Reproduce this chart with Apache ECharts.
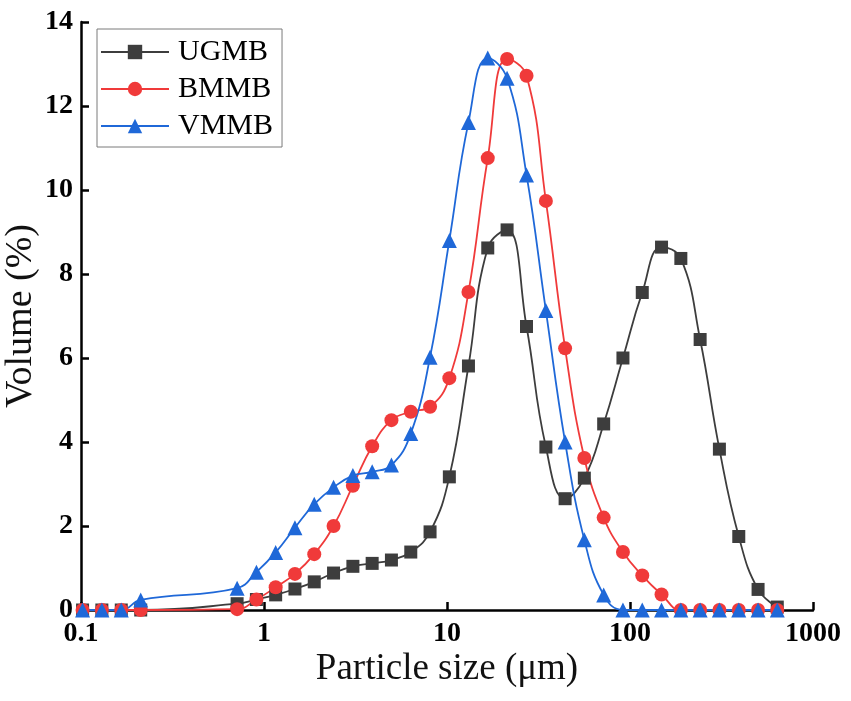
<!DOCTYPE html>
<html>
<head>
<meta charset="utf-8">
<script src="https://cdn.jsdelivr.net/npm/echarts@6/dist/echarts.min.js"></script>
<style>
  html, body { margin: 0; padding: 0; background: #fff; }
  #chart { width: 851px; height: 701px; }
</style>
</head>
<body>
<div id="chart"></div>
<script>
// Particle size bins (µm); nulls in the value arrays mark bins with no plotted marker
const sizes = [0.102, 0.130, 0.166, 0.212, 0.270, 0.344, 0.438, 0.559,
  0.713, 0.909, 1.158, 1.476, 1.882, 2.399, 3.06, 3.90, 4.97, 6.34, 8.08,
  10.3, 13.1, 16.7, 21.3, 27.2, 34.7, 44.2, 56.3, 71.8, 91.5, 116.7, 148.7,
  189.6, 241.7, 308, 393, 501, 638];

const ugmb = [0, 0, 0, 0, null, null, null, null,
  0.15, 0.25, 0.36, 0.5, 0.67, 0.88, 1.04, 1.11, 1.19, 1.38, 1.86,
  3.17, 5.81, 8.62, 9.05, 6.75, 3.88, 2.65, 3.14, 4.43, 6.0, 7.56, 8.64,
  8.37, 6.44, 3.83, 1.75, 0.49, 0.07];

const bmmb = [0, 0, 0, 0, null, null, null, null,
  0.02, 0.25, 0.54, 0.86, 1.33, 2.0, 2.96, 3.9, 4.52, 4.72, 4.84,
  5.52, 7.57, 10.76, 13.12, 12.72, 9.74, 6.23, 3.62, 2.2, 1.38, 0.82, 0.37,
  0, 0, 0, 0, 0, 0];

const vmmb = [0, 0, 0, 0.24, null, null, null, null,
  0.52, 0.9, 1.37, 1.96, 2.52, 2.92, 3.2, 3.29, 3.45, 4.2, 6.02,
  8.8, 11.61, 13.14, 12.66, 10.36, 7.13, 4.0, 1.67, 0.36, 0, 0, 0,
  0, 0, 0, 0, 0, 0];

const seriesNames = ['UGMB', 'BMMB', 'VMMB'];
const xTicks = ['0.1', '1', '10', '100', '1000'];

function pairs(vals) {
  const out = [];
  sizes.forEach((s, i) => { if (vals[i] !== null) out.push([s, vals[i]]); });
  return out;
}

const serif = 'Liberation Serif, Times New Roman, serif';
const chart = echarts.init(document.getElementById('chart'));

function mkSeries(name, vals, color, symbol, size) {
  return {
    name: name,
    type: 'line',
    data: pairs(vals),
    smooth: 0.45,
    symbol: symbol,
    symbolSize: size,
    showAllSymbol: true,
    clip: false,
    lineStyle: { color: color, width: 1.8 },
    itemStyle: { color: color },
    emphasis: { disabled: true }
  };
}

chart.setOption({
  animation: false,
  backgroundColor: '#ffffff',
  grid: { left: 81, right: 38, top: 22, bottom: 91, containLabel: false, outerBoundsMode: 'none' },
  legend: {
    orient: 'vertical',
    left: 97,
    top: 29,
    padding: [8, 9, 6, 3],
    itemWidth: 68,
    itemHeight: 18,
    itemGap: 7,
    borderColor: '#7a7a7a',
    borderWidth: 1,
    data: seriesNames,
    textStyle: { fontFamily: serif, fontSize: 30, lineHeight: 30, color: '#000', padding: [0, 0, 0, 4] }
  },
  xAxis: {
    type: 'log',
    logBase: 10,
    min: 0.1,
    max: 1000,
    name: 'Particle size (\u03bcm)',
    nameLocation: 'middle',
    nameGap: 41,
    nameMoveOverlap: false,
    nameTextStyle: { fontFamily: serif, fontSize: 37, color: '#111' },
    axisLine: { show: true, lineStyle: { color: '#000', width: 2.5 } },
    axisTick: { show: true, inside: true, length: 8, lineStyle: { color: '#000', width: 2.5 } },
    minorTick: { show: false },
    splitLine: { show: false },
    axisLabel: {
      fontFamily: serif, fontSize: 28, fontWeight: 'bold', color: '#000', margin: 10,
      formatter: function (v) {
        const idx = Math.round(Math.log10(v)) + 1;
        return xTicks[idx] !== undefined ? xTicks[idx] : '';
      }
    }
  },
  yAxis: {
    type: 'value',
    min: 0,
    max: 14,
    interval: 2,
    name: 'Volume (%)',
    nameLocation: 'middle',
    nameGap: 41,
    nameMoveOverlap: false,
    nameTextStyle: { fontFamily: serif, fontSize: 38, color: '#111' },
    axisLine: { show: true, lineStyle: { color: '#000', width: 2.5 } },
    axisTick: { show: true, inside: true, length: 8, lineStyle: { color: '#000', width: 2.5 } },
    splitLine: { show: false },
    axisLabel: { fontFamily: serif, fontSize: 28, fontWeight: 'bold', color: '#000', margin: 8 }
  },
  series: [
    mkSeries('UGMB', ugmb, '#3d3d3d', 'rect', 13),
    mkSeries('BMMB', bmmb, '#f03a3a', 'circle', 14),
    mkSeries('VMMB', vmmb, '#1f68d8', 'triangle', 15)
  ]
});
</script>
</body>
</html>
